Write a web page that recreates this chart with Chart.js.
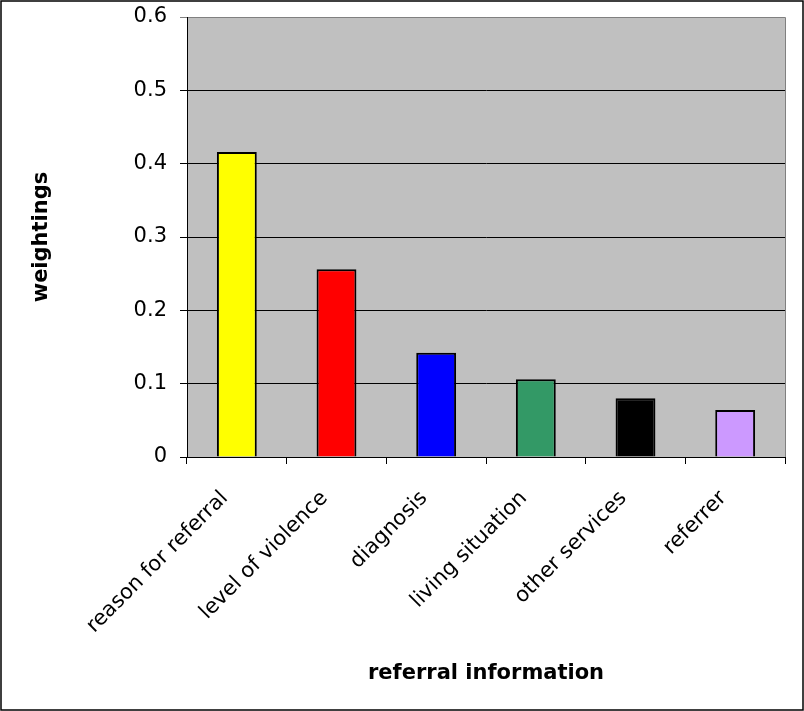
<!DOCTYPE html>
<html>
<head>
<meta charset="utf-8">
<script src="https://cdn.jsdelivr.net/npm/chart.js@4"></script>
<style>
    html, body { margin: 0; padding: 0; background: #fff; }
    #wrap { width: 804px; height: 711px; }
</style>
</head>
<body>
<div id="wrap"><canvas id="chart" width="804" height="711"></canvas></div>
<script>
const categories = ['reason for referral', 'level of violence', 'diagnosis', 'living situation', 'other services', 'referrer'];
const weightings = [0.416, 0.256, 0.142, 0.106, 0.080, 0.064];
const barColors = ['#FFFF00', '#FF0000', '#0000FF', '#339966', '#000000', '#CC99FF'];
const yTicks = [0, 0.1, 0.2, 0.3, 0.4, 0.5, 0.6];

const font = '"DejaVu Sans", Arial, sans-serif';

// gray plot area + outer frame, like the old spreadsheet chart
const frame = {
    id: 'frame',
    beforeDraw(chart) {
        const { ctx, chartArea: a } = chart;
        ctx.save();
        ctx.fillStyle = '#C0C0C0';
        ctx.fillRect(a.left, a.top, a.right - a.left, a.bottom - a.top);
        ctx.strokeStyle = '#808080';
        ctx.lineWidth = 1;
        ctx.beginPath();
        ctx.moveTo(a.left, a.top + 0.5);
        ctx.lineTo(a.right + 0.5, a.top + 0.5);
        ctx.lineTo(a.right + 0.5, a.bottom);
        ctx.stroke();
        ctx.restore();
    },
    afterDraw(chart) {
        const ctx = chart.ctx;
        ctx.save();
        ctx.strokeStyle = '#000';
        ctx.lineWidth = 1.5;
        ctx.strokeRect(1, 1, chart.width - 2, chart.height - 2);
        ctx.restore();
    }
};

new Chart(document.getElementById('chart'), {
    type: 'bar',
    data: {
        labels: categories,
        datasets: [{
            data: weightings,
            backgroundColor: barColors,
            borderColor: '#000',
            borderWidth: 2,
            barPercentage: 0.4,
            categoryPercentage: 1
        }]
    },
    options: {
        responsive: false,
        animation: false,
        layout: { padding: { left: 0, top: 17, right: 19, bottom: 0 } },
        plugins: { legend: { display: false }, tooltip: { enabled: false } },
        scales: {
            x: {
                afterFit: (s) => { s.height = 254; s.paddingLeft = 0; s.paddingRight = 0; },
                grid: { display: true, offset: true, drawOnChartArea: false, color: '#000', tickLength: 7 },
                border: { color: '#000' },
                ticks: { color: '#000', font: { family: font, size: 21 }, minRotation: 45, maxRotation: 45, padding: 22, labelOffset: -12 },
                title: { display: true, text: 'referral information', color: '#000', font: { family: font, size: 21, weight: 'bold' }, padding: { top: 0, bottom: 25 } }
            },
            y: {
                min: 0,
                max: 0.6,
                afterFit: (s) => { s.width = 187; s.paddingTop = 0; s.paddingBottom = 0; },
                afterBuildTicks: (s) => { s.ticks = yTicks.map(v => ({ value: v })); },
                grid: {
                    color: (c) => c.tick && c.tick.value === 0.6 ? '#808080' : '#000',
                    tickLength: 7
                },
                border: { color: '#000' },
                ticks: { color: '#000', font: { family: font, size: 21 }, padding: 13, callback: (v) => String(v) },
                title: { display: true, text: 'weightings', color: '#000', font: { family: font, size: 21, weight: 'bold' }, padding: { top: 29, bottom: 0 } }
            }
        }
    },
    plugins: [frame]
});
</script>
</body>
</html>
